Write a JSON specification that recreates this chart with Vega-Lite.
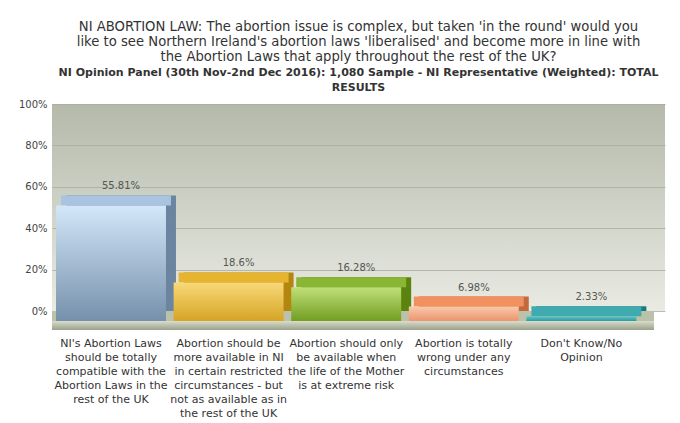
{
  "$schema": "https://vega.github.io/schema/vega-lite/v6.json",
  "width": 613,
  "height": 207,
  "autosize": "none",
  "padding": {"left": 52, "top": 104, "right": 15, "bottom": 112},
  "background": "white",
  "title": {
    "text": ["NI ABORTION LAW: The abortion issue is complex, but taken 'in the round' would you", "like to see Northern Ireland's abortion laws 'liberalised' and become more in line with", "the Abortion Laws that apply throughout the rest of the UK?"],
    "subtitle": ["NI Opinion Panel (30th Nov-2nd Dec 2016): 1,080 Sample - NI Representative (Weighted): TOTAL", "RESULTS"],
    "anchor": "middle",
    "font": "DejaVu Sans",
    "fontSize": 13.2,
    "fontWeight": "normal",
    "color": "#333333",
    "lineHeight": 15.3,
    "subtitleFont": "DejaVu Sans",
    "subtitleFontSize": 11,
    "subtitleFontWeight": "bold",
    "subtitleColor": "#333333",
    "subtitleLineHeight": 14.6,
    "subtitlePadding": 3,
    "offset": 5
  },
  "data": {
    "values": [
      {"k": 1, "answer": "NI's Abortion Laws\nshould be totally\ncompatible with the\nAbortion Laws in the\nrest of the UK", "pct": 55.81},
      {"k": 2, "answer": "Abortion should be\nmore available in NI\nin certain restricted\ncircumstances - but\nnot as available as in\nthe rest of the UK", "pct": 18.6},
      {"k": 3, "answer": "Abortion should only\nbe available when\nthe life of the Mother\nis at extreme risk", "pct": 16.28},
      {"k": 4, "answer": "Abortion is totally\nwrong under any\ncircumstances", "pct": 6.98},
      {"k": 5, "answer": "Don't Know/No\nOpinion", "pct": 2.33}
    ]
  },
  "encoding": {
    "x": {
      "field": "answer",
      "type": "nominal",
      "sort": null,
      "scale": {"paddingInner": 0.065, "paddingOuter": 0.1388, "align": 0.123},
      "axis": {
        "title": null,
        "labelExpr": "split(datum.label, '\\n')",
        "labelAngle": 0,
        "labelBaseline": "top",
        "labelPadding": 26,
        "labelFont": "DejaVu Sans",
        "labelFontSize": 11,
        "labelLineHeight": 14,
        "labelColor": "#333333",
        "labelLimit": 0,
        "domain": false,
        "ticks": false,
        "grid": false
      }
    }
  },
  "layer": [
    {
      "transform": [{"filter": "datum.k == 1"}],
      "mark": {"type": "rect", "color": "#bcc1aa", "xOffset": -11, "x2Offset": -3, "yOffset": 0, "y2Offset": 10},
      "encoding": {"x": null, "y": {"datum": 0, "type": "quantitative", "scale": {"domain": [0, 100]}}, "y2": {"datum": 0}}
    },
    {
      "transform": [{"filter": "datum.k == 1"}],
      "mark": {"type": "rect", "xOffset": -11, "x2Offset": -12, "yOffset": 10, "y2Offset": 19,
        "color": {"gradient": "linear", "x1": 0, "y1": 0, "x2": 0, "y2": 1, "stops": [{"offset": 0, "color": "#d9ddcc"}, {"offset": 1, "color": "#9aa18a"}]}},
      "encoding": {"x": null, "y": {"datum": 0, "type": "quantitative"}, "y2": {"datum": 0}}
    },
    {
      "mark": {"type": "bar", "xOffset": 10},
      "encoding": {
        "y": {"field": "pct", "type": "quantitative", "scale": {"domain": [0, 100]},
          "axis": {"title": null, "values": [0, 20, 40, 60, 80, 100], "labelExpr": "datum.value + '%'", "labelPadding": 5, "labelFont": "DejaVu Sans", "labelFontSize": 10, "labelColor": "#444444", "ticks": false, "domain": false, "grid": true, "gridColor": "#a9ad9d", "gridOpacity": 0.8}},
        "color": {"field": "k", "type": "nominal", "legend": null, "scale": {"domain": [1, 2, 3, 4, 5], "range": ["#6b85a1", "#b3870f", "#5a840f", "#c4693e", "#1c7a7e"]}}
      }
    },
    {
      "mark": {"type": "bar", "xOffset": 5, "yOffset": 0, "y2Offset": 10},
      "encoding": {
        "y": {"field": "pct", "type": "quantitative"},
        "y2": {"field": "pct"},
        "color": {"field": "k", "type": "nominal", "legend": null, "scale": {"domain": [1, 2, 3, 4, 5], "range": ["#a8c4e0", "#e6b42f", "#89b633", "#f0915f", "#3fabaf"]}}
      }
    },
    {
      "transform": [{"filter": "datum.k == 1"}],
      "mark": {"type": "bar", "yOffset": 10, "y2Offset": 10, "color": {"gradient": "linear", "x1": 0, "y1": 0, "x2": 0, "y2": 1, "stops": [{"offset": 0, "color": "#d3e7f9"}, {"offset": 1, "color": "#7690ab"}]}},
      "encoding": {"y": {"field": "pct", "type": "quantitative"}}
    },
    {
      "transform": [{"filter": "datum.k == 2"}],
      "mark": {"type": "bar", "yOffset": 10, "y2Offset": 10, "color": {"gradient": "linear", "x1": 0, "y1": 0, "x2": 0, "y2": 1, "stops": [{"offset": 0, "color": "#f8d977"}, {"offset": 1, "color": "#d6a425"}]}},
      "encoding": {"y": {"field": "pct", "type": "quantitative"}}
    },
    {
      "transform": [{"filter": "datum.k == 3"}],
      "mark": {"type": "bar", "yOffset": 10, "y2Offset": 10, "color": {"gradient": "linear", "x1": 0, "y1": 0, "x2": 0, "y2": 1, "stops": [{"offset": 0, "color": "#c0df78"}, {"offset": 1, "color": "#729e22"}]}},
      "encoding": {"y": {"field": "pct", "type": "quantitative"}}
    },
    {
      "transform": [{"filter": "datum.k == 4"}],
      "mark": {"type": "bar", "yOffset": 10, "y2Offset": 10, "color": {"gradient": "linear", "x1": 0, "y1": 0, "x2": 0, "y2": 1, "stops": [{"offset": 0, "color": "#fbc8aa"}, {"offset": 1, "color": "#eb956e"}]}},
      "encoding": {"y": {"field": "pct", "type": "quantitative"}}
    },
    {
      "transform": [{"filter": "datum.k == 5"}],
      "mark": {"type": "bar", "yOffset": 10, "y2Offset": 10, "color": {"gradient": "linear", "x1": 0, "y1": 0, "x2": 0, "y2": 1, "stops": [{"offset": 0, "color": "#66c6c9"}, {"offset": 1, "color": "#2a9a9e"}]}},
      "encoding": {"y": {"field": "pct", "type": "quantitative"}}
    },
    {
      "mark": {"type": "text", "xOffset": 10, "dy": -9, "baseline": "middle", "font": "DejaVu Sans", "fontSize": 10, "color": "#555555",
        "text": {"expr": "format(datum.pct, '.2~f') + '%'"}},
      "encoding": {"y": {"field": "pct", "type": "quantitative"}}
    }
  ],
  "resolve": {"scale": {"color": "independent"}},
  "config": {
    "view": {
      "stroke": null,
      "fill": {"gradient": "linear", "x1": 0, "y1": 0, "x2": 0, "y2": 1, "stops": [{"offset": 0, "color": "#b5b9aa"}, {"offset": 1, "color": "#e9ebe3"}]}
    }
  }
}
